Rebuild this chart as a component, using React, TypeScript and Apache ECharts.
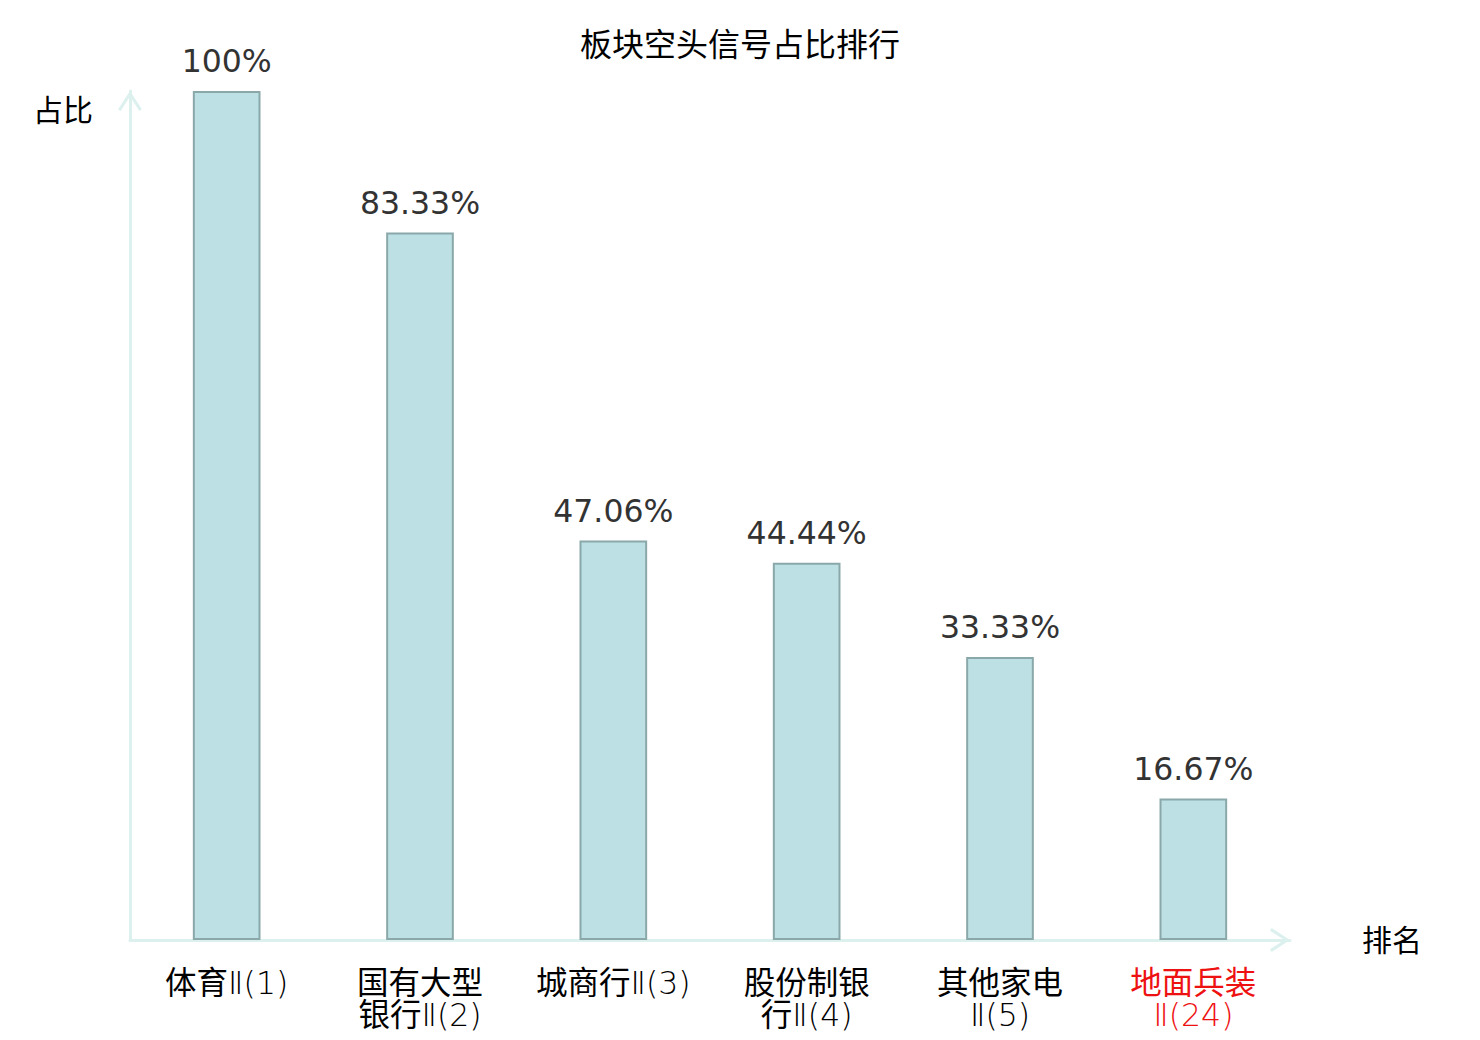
import React, { useEffect, useRef } from "react";
import * as echarts from "echarts";

const categories = [
  "体育Ⅱ(1)",
  "国有大型\n银行Ⅱ(2)",
  "城商行Ⅱ(3)",
  "股份制银\n行Ⅱ(4)",
  "其他家电\nⅡ(5)",
  "地面兵装\nⅡ(24)",
];
const highlighted = [false, false, false, false, false, true];
const values = [100, 83.33, 47.06, 44.44, 33.33, 16.67];

const titleText = "板块空头信号占比排行";
const xName = "排名";
const yName = "占比";

const chevron = "path://M12,0 L24,18.5 L21.4,20.2 L12,5.6 L2.6,20.2 L0,18.5 Z";

export default function App() {
  const ref = useRef<HTMLDivElement>(null);
  useEffect(() => {
    if (!ref.current) return;
    const chart = echarts.init(ref.current, null, { renderer: "svg" });
    const axisColor = "#dcf1ee";
    const font = "'DejaVu Sans', 'Noto Sans CJK SC', sans-serif";
    const cnStyle = (color: string) => ({
      fontSize: 31.5,
      lineHeight: 32,
      fontWeight: "normal",
      fontFamily: font,
      color,
    });
    const ltStyle = (color: string) => ({
      fontSize: 31.5,
      lineHeight: 32,
      fontWeight: 200,
      fontFamily: font,
      color,
    });
    const labelFormatter = (value: string, index: number) => {
      const hl = highlighted[index];
      return value
        .split("\n")
        .map((line) =>
          line.replace(
            /([\u4e00-\u9fff]+)|([^\u4e00-\u9fff]+)/g,
            (_m: string, cn: string, lt: string) =>
              cn ? `{${hl ? "cnR" : "cn"}|${cn}}` : `{${hl ? "ltR" : "lt"}|${lt}}`
          )
        )
        .join("\n");
    };
    chart.setOption({
      animation: false,
      backgroundColor: "#ffffff",
      textStyle: { fontFamily: font },
      title: {
        text: titleText,
        left: "center",
        top: 24,
        textStyle: { fontSize: 32, fontWeight: "normal", color: "#000", fontFamily: font },
      },
      grid: { left: 130, right: 190, top: 91, bottom: 100, containLabel: false, outerBoundsMode: "none" },
      xAxis: {
        type: "category",
        data: categories,
        name: xName,
        nameLocation: "end",
        nameGap: 72,
        nameTextStyle: { fontSize: 30, color: "#000", fontFamily: font },
        axisTick: { show: false },
        axisLine: {
          show: true,
          lineStyle: { color: axisColor, width: 3 },
          symbol: ["none", chevron],
          symbolSize: [24, 20],
          symbolOffset: [0, -10],
        },
        axisLabel: {
          interval: 0,
          fontSize: 31,
          lineHeight: 32,
          margin: 27,
          color: "#000",
          fontFamily: font,
          formatter: labelFormatter,
          rich: {
            cn: cnStyle("#000"),
            lt: ltStyle("#000"),
            cnR: cnStyle("#ee1111"),
            ltR: ltStyle("#ee1111"),
          },
        },
      },
      yAxis: {
        type: "value",
        min: 0,
        max: 100,
        name: yName,
        nameLocation: "end",
        nameGap: -19,
        nameTextStyle: {
          fontSize: 30,
          color: "#000",
          fontFamily: font,
          align: "right",
          verticalAlign: "middle",
          padding: [0, 37, 0, 0],
        },
        axisLine: {
          show: true,
          lineStyle: { color: axisColor, width: 3 },
          symbol: ["none", chevron],
          symbolSize: [24, 20],
          symbolOffset: [0, -10],
        },
        axisTick: { show: false },
        axisLabel: { show: false },
        splitLine: { show: false },
      },
      series: [
        {
          type: "bar",
          data: values,
          barWidth: "35%",
          itemStyle: { color: "#bce0e3", borderColor: "#8aa8aa", borderWidth: 2 },
          label: {
            show: true,
            position: "top",
            distance: 14,
            formatter: "{c}%",
            fontSize: 31.5,
            color: "#333",
            fontFamily: font,
          },
        },
      ],
    });
    return () => chart.dispose();
  }, []);
  return (
    <div
      ref={ref}
      style={{ position: "fixed", left: 0, top: 0, width: 1480, height: 1040 }}
    />
  );
}
